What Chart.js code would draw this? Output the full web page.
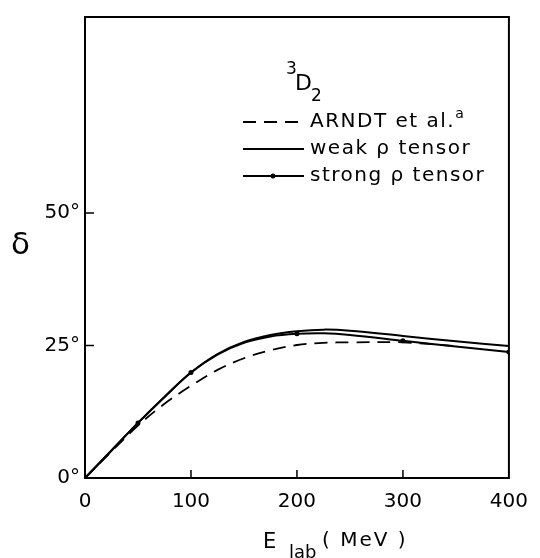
<!DOCTYPE html>
<html>
<head>
<meta charset="utf-8">
<script src="https://cdn.jsdelivr.net/npm/chart.js@4.4.1/dist/chart.umd.min.js"></script>
<style>
  html, body { margin: 0; padding: 0; background: #fff; }
  canvas { display: block; }
</style>
</head>
<body>
<canvas id="phaseChart" width="540" height="558"></canvas>
<script>
// 3D2 phase shift vs lab energy
const energies  = [0, 25, 50, 75, 100, 125, 150, 175, 200, 225, 250, 300, 350, 400];
const arndt     = [0, 5.0, 9.9, 14.0, 17.4, 20.4, 22.6, 24.1, 25.1, 25.5, 25.6, 25.6, 24.9, null];
const weakRho   = [0, 5.2, 10.4, 15.3, 19.9, 23.4, 25.7, 27.0, 27.7, 28.0, 27.8, 26.8, 25.8, 24.9];
const strongRho = [0, 5.2, 10.4, 15.3, 19.9, 23.3, 25.5, 26.7, 27.2, 27.3, 27.0, 25.9, 24.8, 23.8];
const strongDots = [50, 100, 200, 300, 400];
const xTicks = [0, 100, 200, 300, 400];
const yTicks = [0, 25, 50];
const seriesLabels = ['ARNDT et al.', 'weak \u03c1 tensor', 'strong \u03c1 tensor'];

const FONT = '"DejaVu Sans", sans-serif';

const toPoints = vals => energies.map((e, i) => ({ x: e, y: vals[i] }));

const decorations = {
    id: 'decorations',
    afterDraw(chart) {
        const { ctx, chartArea: a, scales: { x, y } } = chart;
        ctx.save();
        ctx.strokeStyle = '#000';
        ctx.fillStyle = '#000';

        // frame
        ctx.lineWidth = 2;
        ctx.strokeRect(a.left, a.top, a.right - a.left, a.bottom - a.top);

        // inward ticks
        ctx.lineWidth = 1.5;
        ctx.beginPath();
        xTicks.slice(1, -1).forEach(v => {
            const px = x.getPixelForValue(v);
            ctx.moveTo(px, a.bottom);
            ctx.lineTo(px, a.bottom - 8);
        });
        yTicks.slice(1).forEach(v => {
            const py = y.getPixelForValue(v);
            ctx.moveTo(a.left, py);
            ctx.lineTo(a.left + 9, py);
        });
        ctx.stroke();

        // axis titles
        ctx.textBaseline = 'alphabetic';
        ctx.textAlign = 'left';
        ctx.font = '31px ' + FONT;
        ctx.fillText('\u03b4', 11, 254);

        ctx.font = '21px ' + FONT;
        ctx.fillText('E', 263, 548);
        ctx.font = '18px ' + FONT;
        ctx.fillText('lab', 289, 558);
        ctx.font = '20px ' + FONT;
        ctx.letterSpacing = '2px';
        ctx.fillText('( MeV )', 322, 546);

        // term symbol
        ctx.letterSpacing = '0px';
        ctx.font = '17px ' + FONT;
        ctx.fillText('3', 286, 74);
        ctx.font = '22px ' + FONT;
        ctx.fillText('D', 295, 90);
        ctx.font = '17px ' + FONT;
        ctx.fillText('2', 311, 101);

        // legend
        chart.data.datasets.forEach((ds, i) => {
            const ry = 122 + i * 27;
            ctx.save();
            ctx.lineWidth = ds.borderWidth;
            ctx.setLineDash(ds.borderDash || []);
            ctx.beginPath();
            ctx.moveTo(243, ry);
            ctx.lineTo(304, ry);
            ctx.stroke();
            ctx.restore();
            if (ds.markLegend) {
                ctx.beginPath();
                ctx.arc(273, ry, 2.5, 0, Math.PI * 2);
                ctx.fill();
            }
            ctx.font = '20px ' + FONT;
            ctx.letterSpacing = '1.5px';
            ctx.textBaseline = 'middle';
            ctx.fillText(ds.label, 310, ry);
            if (i === 0) {
                const w = ctx.measureText(ds.label).width;
                ctx.font = '14px ' + FONT;
                ctx.fillText('a', 310 + w, ry - 8);
            }
        });
        ctx.restore();
    }
};

new Chart(document.getElementById('phaseChart'), {
    type: 'line',
    data: {
        datasets: [
            {
                label: seriesLabels[0],
                data: toPoints(arndt),
                borderColor: '#000',
                borderWidth: 1.8,
                borderDash: [13, 8],
                pointRadius: 0,
                spanGaps: false
            },
            {
                label: seriesLabels[1],
                data: toPoints(weakRho),
                borderColor: '#000',
                borderWidth: 2,
                pointRadius: 0
            },
            {
                label: seriesLabels[2],
                data: toPoints(strongRho),
                borderColor: '#000',
                backgroundColor: '#000',
                borderWidth: 2,
                markLegend: true,
                pointRadius: c => strongDots.includes(energies[c.dataIndex]) ? 2.5 : 0,
                pointBorderWidth: 0
            }
        ]
    },
    plugins: [decorations],
    options: {
        responsive: false,
        animation: false,
        devicePixelRatio: 1,
        elements: { line: { tension: 0.35 } },
        layout: { padding: { top: 9, right: 27, left: 0, bottom: 0 } },
        plugins: { legend: { display: false }, tooltip: { enabled: false } },
        scales: {
            x: {
                type: 'linear',
                min: 0,
                max: 400,
                afterFit: s => { s.height = 80; },
                afterBuildTicks: s => { s.ticks = xTicks.map(v => ({ value: v })); },
                grid: { display: false, drawTicks: false },
                border: { display: false },
                ticks: { padding: 12, color: '#000', maxRotation: 0, font: { family: FONT, size: 20 } }
            },
            y: {
                type: 'linear',
                min: 0,
                max: 87,
                afterFit: s => { s.width = 85; },
                afterBuildTicks: s => { s.ticks = yTicks.map(v => ({ value: v })); },
                grid: { display: false, drawTicks: false },
                border: { display: false },
                ticks: { padding: 5, color: '#000', font: { family: FONT, size: 20 }, callback: v => v + '\u00b0' }
            }
        }
    }
});
</script>
</body>
</html>
